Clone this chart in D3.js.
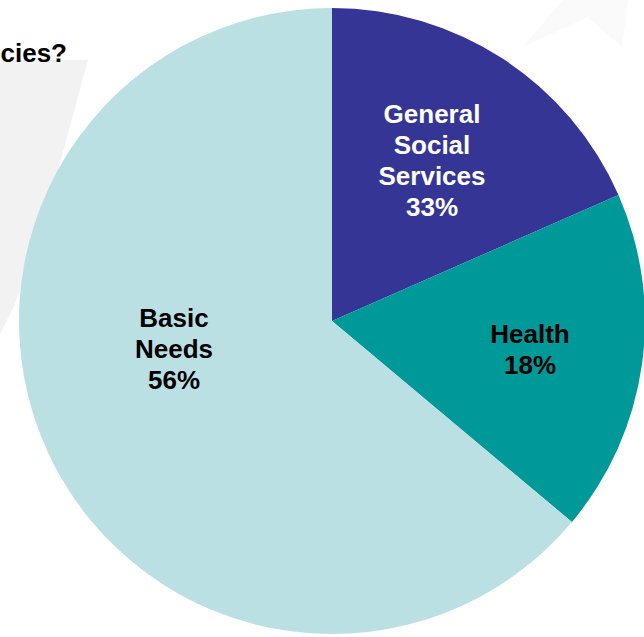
<!DOCTYPE html>
<html>
<head>
<meta charset="utf-8">
<script src="https://cdn.jsdelivr.net/npm/d3@7"></script>
<style>
  body { margin: 0; background: #fff; }
  svg { display: block; }
  text { font-family: "Liberation Sans", Arial, sans-serif; font-weight: bold; }
</style>
</head>
<body>
<div id="chart"></div>
<script>
// slice data (angles), labels as printed on the slide
var categories = ["General Social Services", "Health", "Basic Needs"];
var shares = [18.4, 17.7, 63.9];
var printedPct = ["33%", "18%", "56%"];
var labelLines = [["General", "Social", "Services"], ["Health"], ["Basic", "Needs"]];
var colors = ["#343594", "#009999", "#bbe0e3"];
var textColors = ["#ffffff", "#000000", "#000000"];

var width = 644, height = 637;
var cx = 332, cy = 321, radius = 313;

// where the label blocks sit (first baseline)
var labelPos = [[432, 123], [530, 343], [174, 327]];
var lineH = 31;

window.onload = function() {
    var svg = d3.select("#chart").append("svg")
        .attr("width", width)
        .attr("height", height);

    // faint watermark shapes behind the chart
    svg.append("path")
        .attr("d", "M0,60 L88,60 L52,192 L41,214 L30,265 L14,306 L0,334 Z")
        .style("fill", "#f2f2f2");
    svg.append("path")
        .attr("d", "M523,47 L563,0 L628,0 L622,47 L588,17 Z")
        .style("fill", "#fafafa");

    // title fragment
    svg.append("text")
        .attr("x", 67)
        .attr("y", 62)
        .attr("text-anchor", "end")
        .style("font-size", "26px")
        .style("fill", "#000")
        .text("cies?");

    var pie = d3.pie().sort(null).value(function(d) { return d; });
    var arc = d3.arc().innerRadius(0).outerRadius(radius);

    var g = svg.append("g")
        .attr("transform", "translate(" + cx + "," + cy + ")");

    g.selectAll(".slice")
        .data(pie(shares))
        .enter().append("path")
        .attr("class", "slice")
        .attr("d", arc)
        .style("fill", function(d, i) { return colors[i]; });

    // labels
    categories.forEach(function(c, i) {
        var lines = labelLines[i].concat([printedPct[i]]);
        var t = svg.append("text")
            .attr("x", labelPos[i][0])
            .attr("y", labelPos[i][1])
            .attr("text-anchor", "middle")
            .style("font-size", "26px")
            .style("fill", textColors[i]);
        lines.forEach(function(l, j) {
            t.append("tspan")
                .attr("x", labelPos[i][0])
                .attr("dy", j === 0 ? 0 : lineH)
                .text(l);
        });
    });
};
</script>
</body>
</html>
